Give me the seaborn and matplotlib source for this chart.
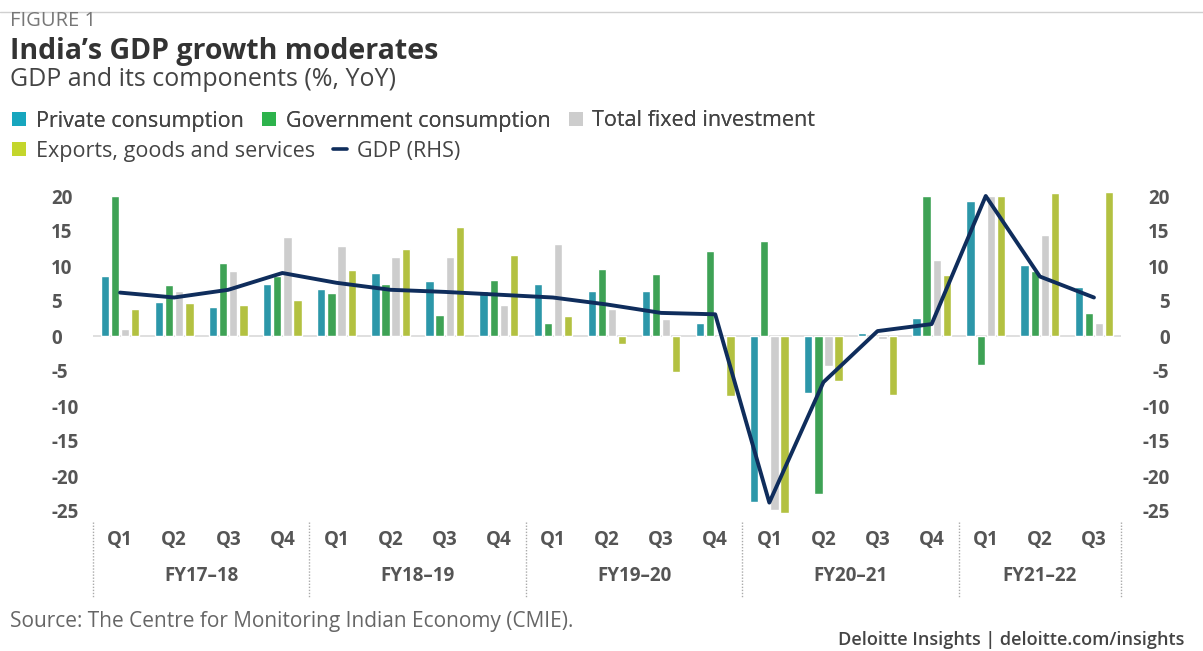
import numpy as np
import pandas as pd
import seaborn as sns
from matplotlib import pyplot as plt
from matplotlib.patches import Patch
from matplotlib.lines import Line2D
import matplotlib.transforms as mtransforms

fiscal_years = ["FY17–18"] * 4 + ["FY18–19"] * 4 + ["FY19–20"] * 4 + ["FY20–21"] * 4 + ["FY21–22"] * 3
quarters = ["Q1", "Q2", "Q3", "Q4"] * 4 + ["Q1", "Q2", "Q3"]

private = [8.6, 4.8, 4.2, 7.5, 6.7, 9.0, 7.9, 6.5, 7.5, 6.4, 6.4, 1.9, -23.7, -8.2, 0.4, 2.6, 19.3, 10.2, 7.0]
government = [20.0, 7.3, 10.4, 8.6, 6.1, 7.5, 3.0, 8.0, 1.8, 9.6, 8.8, 12.1, 13.6, -22.6, 0.0, 20.0, -4.2, 9.3, 3.3]
investment = [1.0, 6.4, 9.3, 14.2, 12.9, 11.3, 11.3, 4.5, 13.2, 3.8, 2.4, 0.0, -24.9, -4.3, -0.4, 10.9, 20.0, 14.5, 1.9]
exports = [3.9, 4.7, 4.5, 5.2, 9.5, 12.4, 15.6, 11.6, 2.9, -1.1, -5.2, -8.6, -25.3, -6.4, -8.4, 8.7, 20.0, 20.4, 20.6]
gdp = [6.2, 5.5, 6.6, 9.0, 7.6, 6.6, 6.3, 5.9, 5.5, 4.5, 3.3, 3.1, -23.8, -6.6, 0.7, 1.7, 20.0, 8.5, 5.5]

components = ["Private consumption", "Government consumption", "Total fixed investment", "Exports, goods and services"]
colors = ["#17a6be", "#2db34c", "#cdcdcd", "#c4d62c"]
gdp_color = "#0f2d5c"

periods = [f"{fy} {q}" for fy, q in zip(fiscal_years, quarters)]
df = pd.DataFrame({"period": periods * 4,
                   "component": np.repeat(components, len(periods)),
                   "value": private + government + investment + exports})

sns.set_style("white")
plt.rcParams["font.family"] = ["Open Sans", "DejaVu Sans"]

fig = plt.figure(figsize=(12.03, 6.51), dpi=100)
ax = fig.add_axes([93 / 1203, 1 - 518 / 651, 1028 / 1203, 329 / 651])

sns.barplot(data=df, x="period", y="value", hue="component", order=periods,
            hue_order=components, palette=colors, width=0.75, gap=0.18,
            legend=False, ax=ax, zorder=2)
ax.axhline(0, color="#dcdcdc", lw=1.3, zorder=1)

ax2 = ax.twinx()
sns.lineplot(x=np.arange(len(periods)), y=gdp, color=gdp_color, lw=2.8, ax=ax2)

ylim = (-26, 21)
yticks = np.arange(-25, 21, 5)
for a in (ax, ax2):
    a.set_ylim(ylim)
    a.set_yticks(yticks)
    a.set_xlim(-0.5, len(periods) - 0.5)
    a.set_ylabel("")
    a.set_xlabel("")
    for s in a.spines.values():
        s.set_visible(False)

tick_font = dict(fontweight="bold", fontsize=13.5, color="#555555")
ax.set_yticklabels([str(t) for t in yticks], ha="left", **tick_font)
ax.tick_params(axis="y", length=0, pad=30)
ax2.set_yticklabels([str(t) for t in yticks], ha="right", **tick_font)
ax2.tick_params(axis="y", length=0, pad=35)

ax.set_xticks(np.arange(len(periods)))
ax.set_xticklabels(quarters, **tick_font)
ax.tick_params(axis="x", length=0, pad=9)

# fiscal year labels and dotted separators
trans = mtransforms.blended_transform_factory(ax.transData, ax.transAxes)
fy_names = list(dict.fromkeys(fiscal_years))
bounds = [-0.5]
for fy in fy_names:
    bounds.append(bounds[-1] + fiscal_years.count(fy))
for fy, lo, hi in zip(fy_names, bounds[:-1], bounds[1:]):
    ax.text((lo + hi) / 2, -0.176, fy, transform=trans, ha="center", va="center", **tick_font)
for b in bounds:
    ax.plot([b, b], [-0.012, -0.24], transform=trans, color="#aaaaaa", lw=1,
            ls=(0, (1, 1.2)), clip_on=False)

# header
fig.add_artist(Line2D([0, 1], [1 - 12 / 651] * 2, color="#d0d0d0", lw=1))
fig.text(10 / 1203, 1 - 21 / 651, "FIGURE 1", fontsize=14.5, color="#777777", va="center")
fig.text(10 / 1203, 1 - 52 / 651, "India’s GDP growth moderates", fontsize=20.5,
         fontweight="bold", color="#333333", va="center")
fig.text(10 / 1203, 1 - 80 / 651, "GDP and its components (%, YoY)", fontsize=18,
         color="#444444", va="center")

# legend rows
h_bars = [Patch(facecolor=c, edgecolor="none") for c in colors]
h_line = Line2D([0], [0], color=gdp_color, lw=2.6)
leg_kw = dict(frameon=False, fontsize=15.5, handlelength=0.65, handleheight=0.65,
              handletextpad=0.45, columnspacing=0.85, borderpad=0, borderaxespad=0,
              loc="center left", labelcolor="#444444")
leg1 = fig.legend(h_bars[:3], components[:3], ncol=3,
                  bbox_to_anchor=(12 / 1203, 1 - 121 / 651), **leg_kw)
fig.add_artist(leg1)
fig.legend([h_bars[3], h_line], [components[3], "GDP (RHS)"], ncol=2,
           bbox_to_anchor=(12 / 1203, 1 - 151 / 651), **leg_kw)

# footer
fig.text(10 / 1203, 1 - 622 / 651, "Source: The Centre for Monitoring Indian Economy (CMIE).",
         fontsize=15, color="#666666", va="center")
fig.text(838 / 1203, 1 - 640 / 651, "Deloitte Insights | deloitte.com/insights",
         fontsize=13, color="#444444", va="center", fontweight="semibold")

plt.savefig("out.png", dpi=100)
